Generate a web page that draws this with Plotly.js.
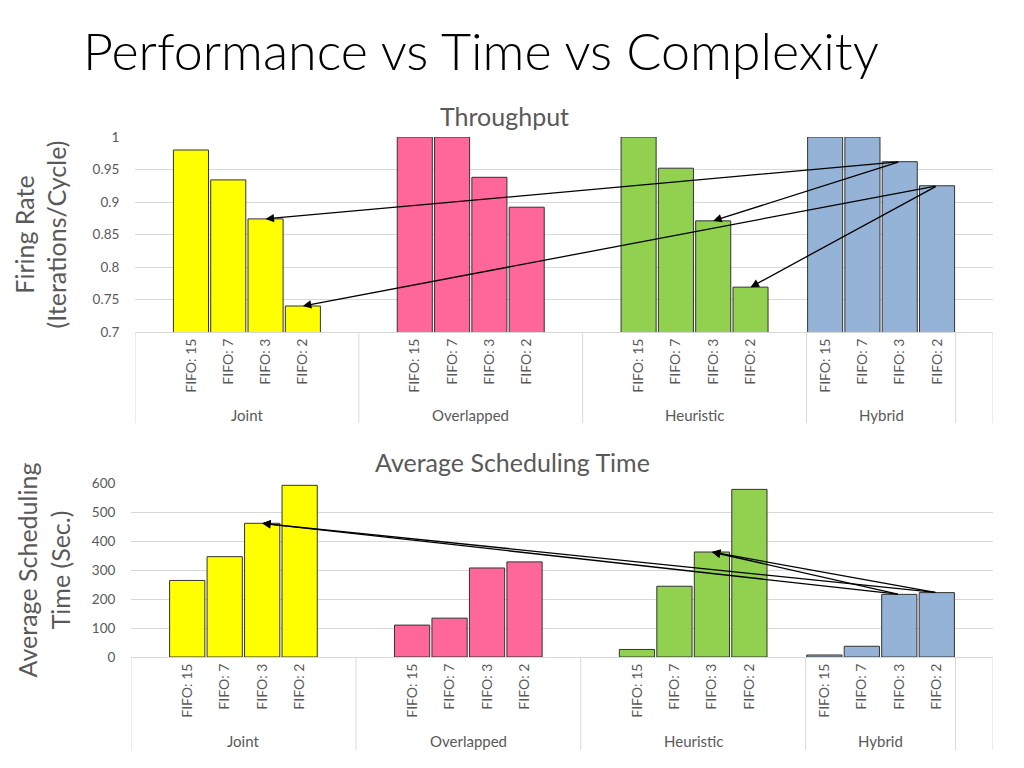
<!DOCTYPE html>
<html>
<head>
<meta charset="utf-8">
<script src="https://cdn.plot.ly/plotly-3.0.1.min.js"></script>
<style>html,body{margin:0;padding:0;background:#fff;}#chart{width:1024px;height:768px;}</style>
</head>
<body>
<div id="chart"></div>
<script>
// ---- Data ----
const groups = ['Joint', 'Overlapped', 'Heuristic', 'Hybrid'];
const fifoLabels = ['FIFO: 15', 'FIFO: 7', 'FIFO: 3', 'FIFO: 2'];

const throughputJoint      = [0.980, 0.934, 0.874, 0.740];
const throughputOverlapped = [1.000, 1.000, 0.938, 0.892];
const throughputHeuristic  = [1.000, 0.952, 0.871, 0.769];
const throughputHybrid     = [1.000, 1.000, 0.962, 0.925];

const schedJoint      = [264, 346, 461, 592];
const schedOverlapped = [110, 134, 307, 328];
const schedHeuristic  = [26, 244, 362, 578];
const schedHybrid     = [7, 37, 216, 222];

const groupColors = ['#FFFF00', '#FF6699', '#92D050', '#95B3D7'];

// ---- Category slot layout (Excel-style multi-level axis) ----
const groupStartSlot = [1, 7, 13, 18];
const groupBounds = [-0.5, 5.5, 11.5, 17.5, 21.5, 22.5];
const groupCenters = [2.5, 8.5, 14.5, 19.5];

const throughputSeries = [throughputJoint, throughputOverlapped, throughputHeuristic, throughputHybrid];
const schedSeries = [schedJoint, schedOverlapped, schedHeuristic, schedHybrid];

function slotsOf(g) { return fifoLabels.map((_, k) => groupStartSlot[g] + k); }

const FONT = 'Lato, "Open Sans", sans-serif';
const GRAY = '#595959';
const GRID = '#d9d9d9';
const H = 768, W = 1024;
const py = p => (H - p) / H;
const px = p => p / W;

const traces = [];
groups.forEach((g, i) => {
  traces.push({
    type: 'bar', name: g, x: slotsOf(i), y: throughputSeries[i], width: 0.94,
    marker: {color: groupColors[i], line: {color: '#333333', width: 1}},
    xaxis: 'x', yaxis: 'y', showlegend: false, hoverinfo: 'y'
  });
  traces.push({
    type: 'bar', name: g, x: slotsOf(i), y: schedSeries[i], width: 0.94,
    marker: {color: groupColors[i], line: {color: '#333333', width: 1}},
    xaxis: 'x2', yaxis: 'y2', showlegend: false, hoverinfo: 'y'
  });
});

const allSlots = [].concat(...groups.map((_, i) => slotsOf(i)));
const allTickText = [].concat(...groups.map(() => fifoLabels));

const xCommon = {
  range: [-0.5, 22.5], tickvals: allSlots, ticktext: allTickText, tickangle: -90,
  tickfont: {family: FONT, size: 14, color: GRAY}, showgrid: false, zeroline: false,
  showline: true, linecolor: GRID, linewidth: 1, ticks: '', fixedrange: true
};

const shapes = [];
groupBounds.forEach(b => {
  shapes.push({type: 'line', xref: 'x', yref: 'paper', x0: b, x1: b, y0: py(332), y1: py(423), line: {color: GRID, width: 1}});
  shapes.push({type: 'line', xref: 'x2', yref: 'paper', x0: b, x1: b, y0: py(657), y1: py(750), line: {color: GRID, width: 1}});
});

const annotations = [];
groups.forEach((g, i) => {
  annotations.push({xref: 'x', yref: 'paper', x: groupCenters[i], y: py(415), text: g, showarrow: false,
    font: {family: FONT, size: 15, color: GRAY}, xanchor: 'center', yanchor: 'middle'});
  annotations.push({xref: 'x2', yref: 'paper', x: groupCenters[i], y: py(741), text: g, showarrow: false,
    font: {family: FONT, size: 15, color: GRAY}, xanchor: 'center', yanchor: 'middle'});
});

annotations.push({xref: 'paper', yref: 'paper', x: px(504), y: py(116), text: 'Throughput', showarrow: false,
  font: {family: FONT, size: 25, color: GRAY}, xanchor: 'center', yanchor: 'middle'});
annotations.push({xref: 'paper', yref: 'paper', x: px(512), y: py(462), text: 'Average Scheduling Time', showarrow: false,
  font: {family: FONT, size: 25, color: GRAY}, xanchor: 'center', yanchor: 'middle'});

// Arrows: from Hybrid FIFO:3 / FIFO:2 tops to the matching bars of other schemes
function arrow(xa, ya, tx, ty, hx, hy) {
  return {xref: xa, yref: ya, axref: xa, ayref: ya, x: hx, y: hy, ax: tx, ay: ty, text: '',
    showarrow: true, arrowhead: 2, arrowsize: 1.3, arrowwidth: 1.3, arrowcolor: '#000000', standoff: 0, startstandoff: 0};
}
const s = i => slotsOf(i);
// top chart
annotations.push(arrow('x', 'y', s(3)[2], throughputHybrid[2], s(0)[2], throughputJoint[2]));
annotations.push(arrow('x', 'y', s(3)[2], throughputHybrid[2], s(2)[2], throughputHeuristic[2]));
annotations.push(arrow('x', 'y', s(3)[3], throughputHybrid[3], s(0)[3], throughputJoint[3]));
annotations.push(arrow('x', 'y', s(3)[3], throughputHybrid[3], s(2)[3], throughputHeuristic[3]));
// bottom chart
annotations.push(arrow('x2', 'y2', s(3)[2], schedHybrid[2], s(0)[2], schedJoint[2]));
annotations.push(arrow('x2', 'y2', s(3)[3], schedHybrid[3], s(0)[2], schedJoint[2]));
annotations.push(arrow('x2', 'y2', s(3)[2], schedHybrid[2], s(2)[2], schedHeuristic[2]));
annotations.push(arrow('x2', 'y2', s(3)[3], schedHybrid[3], s(2)[2], schedHeuristic[2]));

const layout = {
  width: W, height: H, autosize: false,
  margin: {l: 0, r: 0, t: 0, b: 0, pad: 0},
  paper_bgcolor: '#ffffff', plot_bgcolor: '#ffffff',
  font: {family: FONT, color: GRAY},
  bargap: 0,
  title: {text: 'Performance vs Time vs Complexity', x: px(83), xanchor: 'left', xref: 'paper',
    y: py(52), yanchor: 'middle', font: {family: FONT, size: 52, weight: 300, color: '#000000'}},
  xaxis: Object.assign({}, xCommon, {domain: [px(135), px(993)], anchor: 'y'}),
  yaxis: {domain: [py(332), py(137)], range: [0.7, 1], dtick: 0.05, anchor: 'x',
    gridcolor: GRID, gridwidth: 1, zeroline: false, showline: false,
    ticks: 'outside', ticklen: 12, tickcolor: 'rgba(0,0,0,0)',
    tickfont: {family: FONT, size: 13.5, color: GRAY}, fixedrange: true,
    title: {text: 'Firing Rate<br>(Iterations/Cycle)', standoff: 18, font: {family: FONT, size: 25, color: GRAY}}},
  xaxis2: Object.assign({}, xCommon, {domain: [px(131), px(993)], anchor: 'y2'}),
  yaxis2: {domain: [py(657), py(483)], range: [0, 600], dtick: 100, anchor: 'x2',
    gridcolor: GRID, gridwidth: 1, zeroline: false, showline: false,
    ticks: 'outside', ticklen: 12, tickcolor: 'rgba(0,0,0,0)',
    tickfont: {family: FONT, size: 13.5, color: GRAY}, fixedrange: true,
    title: {text: 'Average Scheduling<br>Time (Sec.)', standoff: 14, font: {family: FONT, size: 25, color: GRAY}}},
  shapes: shapes,
  annotations: annotations
};

Plotly.newPlot('chart', traces, layout, {displayModeBar: false, staticPlot: true});
</script>
</body>
</html>
